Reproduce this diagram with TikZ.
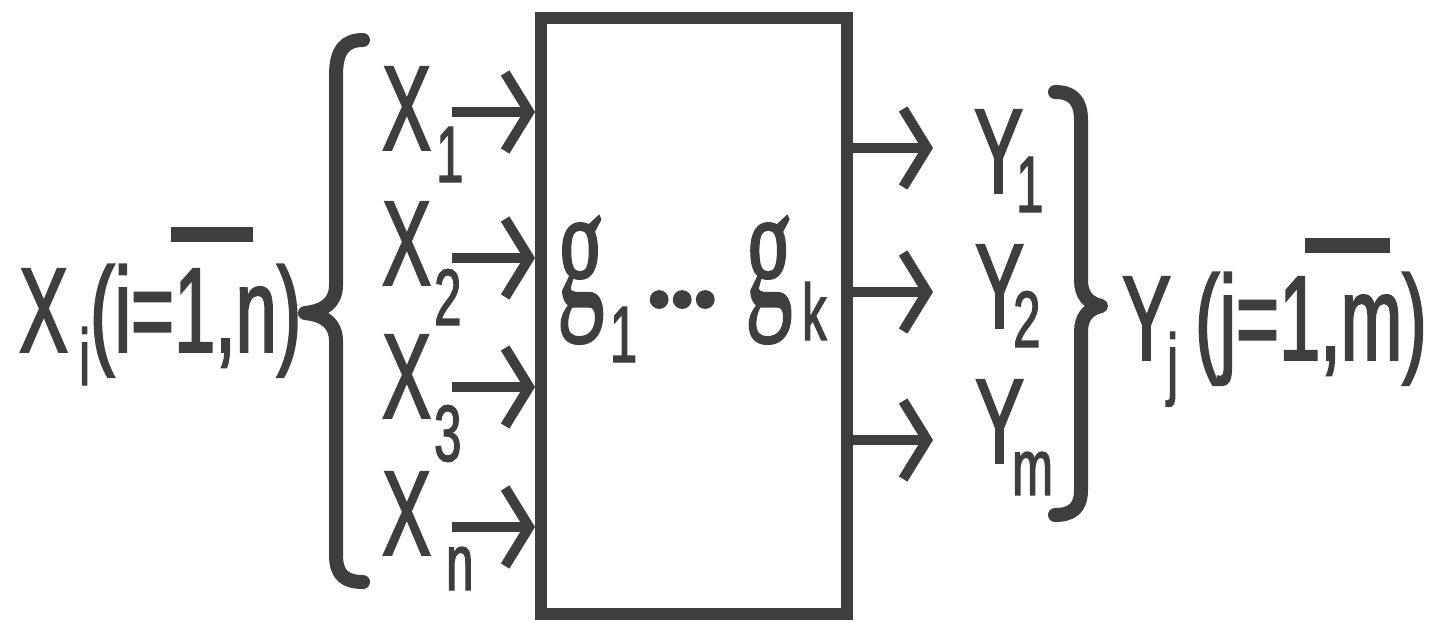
\documentclass[tikz,border=0pt]{standalone}
\usepackage{graphicx}
\usepackage{fontspec}
\usetikzlibrary{arrows.meta}
\newfontfamily\lsans[FakeStretch=0.61,FakeBold=1.6]{Liberation Sans}
\newfontfamily\lserif[FakeBold=1.2]{Liberation Serif}
\newcommand\mainsz{\lsans\fontsize{60.5pt}{60.5pt}\selectfont}
\newcommand\subsz{\lsans\fontsize{40pt}{40pt}\selectfont}
\newcommand\gch{\scalebox{0.54}[1]{\lserif\fontsize{88pt}{88pt}\selectfont g}}
\newcommand\dotch{{\lserif\fontsize{72pt}{72pt}\selectfont .}}
\newcommand\sbx[2]{\raisebox{-#1}{\subsz #2}}
\definecolor{ink}{RGB}{62,62,62}
\begin{document}
\begin{tikzpicture}[x=0.5pt,y=-0.5pt,
  lbl/.style={anchor=base west,inner sep=0pt,outer sep=0pt,text=ink,font=\mainsz},
  boxst/.style={draw=ink,line width=6pt,inner sep=0pt},
  arr/.style={draw=ink,line width=4.6pt,-{Straight Barb[length=12pt,width=39pt,line width=5pt]}},
  brace/.style={draw=ink,line width=7pt,line cap=round,line join=round},
  bar/.style={draw=ink,line width=7.5pt}]
\useasboundingbox (0,0) rectangle (1433,622);
% box
\node[boxst,minimum width=153pt,minimum height=298pt] (box) at (694,315.5) {};
\node[lbl] (g) at (557,306) {\gch\kern2.75pt\sbx{28pt}{1}\kern2pt\dotch\kern-6.5pt\dotch\kern-6.5pt\dotch\kern11pt\gch\kern4.75pt\sbx{17pt}{k}};
% left label
\node[lbl] (xi) at (19,352) {X\kern5.5pt\sbx{16.5pt}{i}(i=1,n)};
\draw[bar] (171,234.5) -- (253,234.5);
% left brace
\draw[brace] (363,40) .. controls (345,40) and (336,50) .. (336,75) -- (336,285)
  .. controls (336,302) and (325,311) .. (305,313)
  .. controls (325,315) and (336,324) .. (336,341) -- (336,555)
  .. controls (336,575) and (345,582) .. (363,582);
% inputs
\node[lbl] (x1) at (382,150) {X\kern2.5pt\sbx{16pt}{1}};
\node[lbl] (x2) at (382,285) {X\kern1.5pt\sbx{20pt}{2}};
\node[lbl] (x3) at (382,418) {X\kern1.5pt\sbx{21.5pt}{3}};
\node[lbl] (xn) at (382,555) {X\kern7.5pt\sbx{17.5pt}{n}};
\coordinate (i1) at (452,112);
\coordinate (i2) at (452,258);
\coordinate (i3) at (452,387);
\coordinate (i4) at (452,527);
\foreach \c in {i1,i2,i3,i4} \draw[arr] (\c) -- (\c -| box.west);
% outputs
\coordinate (o1) at (933,148);
\coordinate (o2) at (933,292);
\coordinate (o3) at (933,440);
\foreach \c in {o1,o2,o3} \draw[arr] (\c -| box.east) -- (\c);
\node[lbl] (y1) at (974,193) {Y\kern-3.5pt\sbx{9.5pt}{1}};
\node[lbl] (y2) at (975,328) {Y\kern-5.5pt\sbx{9.5pt}{2}};
\node[lbl] (ym) at (975,463) {Y\kern-6pt\sbx{16pt}{m}};
% right brace
\draw[brace] (1055,92) .. controls (1072,92) and (1081,100) .. (1081,120) -- (1081,280)
  .. controls (1081,295) and (1088,303) .. (1101,306)
  .. controls (1088,309) and (1081,317) .. (1081,332) -- (1081,490)
  .. controls (1081,508) and (1072,515) .. (1055,515);
\node[lbl] (yj) at (1122,360) {Y\kern-2pt\sbx{15pt}{j}\kern8.5pt(j=1,m)};
\draw[bar] (1305,245.5) -- (1390,245.5);
\end{tikzpicture}
\end{document}
